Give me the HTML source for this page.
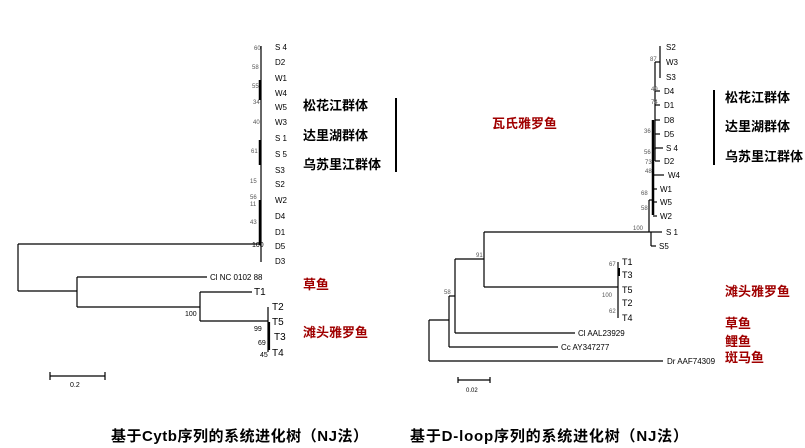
<!DOCTYPE html>
<html><head><meta charset="utf-8"><style>
html,body{margin:0;padding:0;background:#fff;}
svg{display:block;}
.l{font-family:"Liberation Sans",sans-serif;font-size:8px;fill:#000;}
.b{font-family:"Liberation Sans",sans-serif;font-size:6px;fill:#555;}
.c{font-family:"Liberation Sans","Noto Sans CJK SC",sans-serif;font-size:13px;font-weight:bold;fill:#000;}
.r{font-family:"Liberation Sans","Noto Sans CJK SC",sans-serif;font-size:13px;font-weight:bold;fill:#a00000;}
.t{font-family:"Liberation Sans","Noto Sans CJK SC",sans-serif;font-size:15px;font-weight:bold;fill:#000;}
</style></head><body>
<svg width="805" height="448" viewBox="0 0 805 448" xmlns="http://www.w3.org/2000/svg">
<g stroke="#000" stroke-width="1.2" fill="none">
<!-- left tree -->
<line x1="261" y1="46" x2="261" y2="262"/>
<line x1="260" y1="80" x2="260" y2="100" stroke-width="2.5"/>
<line x1="260" y1="140" x2="260" y2="165" stroke-width="2.5"/>
<line x1="260" y1="200" x2="260" y2="245" stroke-width="2.5"/>
<line x1="18" y1="244" x2="261" y2="244"/>
<line x1="18" y1="244" x2="18" y2="291"/>
<line x1="18" y1="291" x2="77" y2="291"/>
<line x1="77" y1="277" x2="77" y2="307"/>
<line x1="77" y1="277" x2="207" y2="277"/>
<line x1="77" y1="307" x2="200" y2="307"/>
<line x1="200" y1="292" x2="200" y2="321"/>
<line x1="200" y1="292" x2="252" y2="292"/>
<line x1="200" y1="321" x2="268" y2="321"/>
<line x1="268" y1="307" x2="268" y2="352"/>
<line x1="269" y1="322" x2="269" y2="350" stroke-width="2.2"/>
<line x1="50" y1="376" x2="105" y2="376"/>
<line x1="50" y1="372" x2="50" y2="380"/>
<line x1="105" y1="372" x2="105" y2="380"/>
<line x1="396" y1="98" x2="396" y2="172" stroke-width="2"/>
<!-- right tree -->
<line x1="660" y1="46" x2="660" y2="78"/>
<line x1="655" y1="62" x2="660" y2="62"/>
<line x1="655" y1="62" x2="655" y2="150"/>
<line x1="655" y1="91" x2="660" y2="91"/>
<line x1="655" y1="105" x2="660" y2="105"/>
<line x1="655" y1="120" x2="660" y2="120"/>
<line x1="655" y1="134" x2="660" y2="134"/>
<line x1="653" y1="120" x2="653" y2="215" stroke-width="2.5"/>
<line x1="655" y1="148" x2="663" y2="148"/>
<line x1="655" y1="148" x2="655" y2="161"/>
<line x1="655" y1="161" x2="660" y2="161"/>
<line x1="653" y1="175" x2="664" y2="175"/>
<line x1="653" y1="189" x2="657" y2="189"/>
<line x1="653" y1="202" x2="657" y2="202"/>
<line x1="653" y1="216" x2="657" y2="216"/>
<line x1="649" y1="200" x2="649" y2="232"/>
<line x1="649" y1="200" x2="653" y2="200"/>
<line x1="649" y1="232" x2="662" y2="232"/>
<line x1="651" y1="232" x2="651" y2="246"/>
<line x1="651" y1="246" x2="656" y2="246"/>
<line x1="484" y1="232" x2="649" y2="232"/>
<line x1="484" y1="232" x2="484" y2="287"/>
<line x1="484" y1="287" x2="618" y2="287"/>
<line x1="618" y1="262" x2="618" y2="318"/>
<line x1="619" y1="268" x2="619" y2="276" stroke-width="2"/>
<line x1="455" y1="259" x2="484" y2="259"/>
<line x1="455" y1="259" x2="455" y2="333"/>
<line x1="455" y1="333" x2="575" y2="333"/>
<line x1="449" y1="296" x2="455" y2="296"/>
<line x1="449" y1="296" x2="449" y2="347"/>
<line x1="449" y1="347" x2="558" y2="347"/>
<line x1="429" y1="320" x2="449" y2="320"/>
<line x1="429" y1="320" x2="429" y2="361"/>
<line x1="429" y1="361" x2="663" y2="361"/>
<line x1="458" y1="380" x2="490" y2="380"/>
<line x1="458" y1="377" x2="458" y2="383"/>
<line x1="490" y1="377" x2="490" y2="383"/>
<line x1="714" y1="90" x2="714" y2="165" stroke-width="2"/>
</g>
<!-- left labels -->
<g class="l">
<text x="275" y="50">S 4</text><text x="275" y="65">D2</text><text x="275" y="81">W1</text><text x="275" y="96">W4</text>
<text x="275" y="110">W5</text><text x="275" y="125">W3</text><text x="275" y="141">S 1</text><text x="275" y="157">S 5</text>
<text x="275" y="173">S3</text><text x="275" y="187">S2</text><text x="275" y="203">W2</text><text x="275" y="219">D4</text>
<text x="275" y="235">D1</text><text x="275" y="249">D5</text><text x="275" y="264">D3</text>
<text x="210" y="280">Cl  NC 0102 88</text><text x="254" y="295" font-size="10">T1</text>
<text x="272" y="310" font-size="10">T2</text><text x="272" y="325" font-size="10">T5</text>
<text x="274" y="340" font-size="10">T3</text><text x="272" y="356" font-size="10">T4</text>
<text x="252" y="247" font-size="7">100</text><text x="185" y="316" font-size="7">100</text>
<text x="254" y="331" font-size="7">99</text><text x="258" y="345" font-size="7">69</text><text x="260" y="357" font-size="7">45</text>
<text x="70" y="387" font-size="7">0.2</text>
<text x="466" y="392" font-size="6">0.02</text>
</g>
<g class="b">
<text x="254" y="50">60</text><text x="252" y="69">58</text><text x="252" y="88">55</text><text x="253" y="104">34</text>
<text x="253" y="124">40</text><text x="251" y="153">61</text><text x="250" y="183">15</text><text x="250" y="199">56</text>
<text x="250" y="206">11</text><text x="250" y="224">43</text>
</g>
<!-- right labels -->
<g class="l">
<text x="666" y="50">S2</text><text x="666" y="65">W3</text><text x="666" y="80">S3</text><text x="664" y="94">D4</text>
<text x="664" y="108">D1</text><text x="664" y="123">D8</text><text x="664" y="137">D5</text><text x="666" y="151">S 4</text>
<text x="664" y="164">D2</text><text x="668" y="178">W4</text><text x="660" y="192">W1</text><text x="660" y="205">W5</text>
<text x="660" y="219">W2</text><text x="666" y="235">S 1</text><text x="659" y="249">S5</text>
<text x="622" y="265" font-size="9">T1</text><text x="622" y="278" font-size="9">T3</text><text x="622" y="293" font-size="9">T5</text>
<text x="622" y="306" font-size="9">T2</text><text x="622" y="321" font-size="9">T4</text>
<text x="578" y="336">Cl AAL23929</text><text x="561" y="350">Cc AY347277</text><text x="667" y="364">Dr AAF74309</text>
</g>
<g class="b">
<text x="650" y="61">87</text><text x="651" y="91">49</text><text x="651" y="104">74</text><text x="644" y="133">36</text>
<text x="644" y="154">56</text><text x="645" y="164">73</text><text x="645" y="173">48</text><text x="641" y="195">68</text>
<text x="641" y="210">58</text><text x="633" y="230">100</text><text x="476" y="257">91</text><text x="444" y="294">58</text>
<text x="609" y="266">67</text><text x="602" y="297">100</text><text x="609" y="313">62</text>
</g>
<!-- chinese -->
<text class="c" x="303" y="110">松花江群体</text>
<text class="c" x="303" y="140">达里湖群体</text>
<text class="c" x="303" y="169">乌苏里江群体</text>
<text class="c" x="725" y="102">松花江群体</text>
<text class="c" x="725" y="131">达里湖群体</text>
<text class="c" x="725" y="161">乌苏里江群体</text>
<text class="r" x="303" y="289">草鱼</text>
<text class="r" x="303" y="337">滩头雅罗鱼</text>
<text class="r" x="492" y="128">瓦氏雅罗鱼</text>
<text class="r" x="725" y="296">滩头雅罗鱼</text>
<text class="r" x="725" y="328">草鱼</text>
<text class="r" x="725" y="346">鲤鱼</text>
<text class="r" x="725" y="362">斑马鱼</text>
<text class="t" x="111" y="441" textLength="257">基于Cytb序列的系统进化树（NJ法）</text>
<text class="t" x="410" y="441" textLength="278">基于D-loop序列的系统进化树（NJ法）</text>
</svg>
</body></html>
